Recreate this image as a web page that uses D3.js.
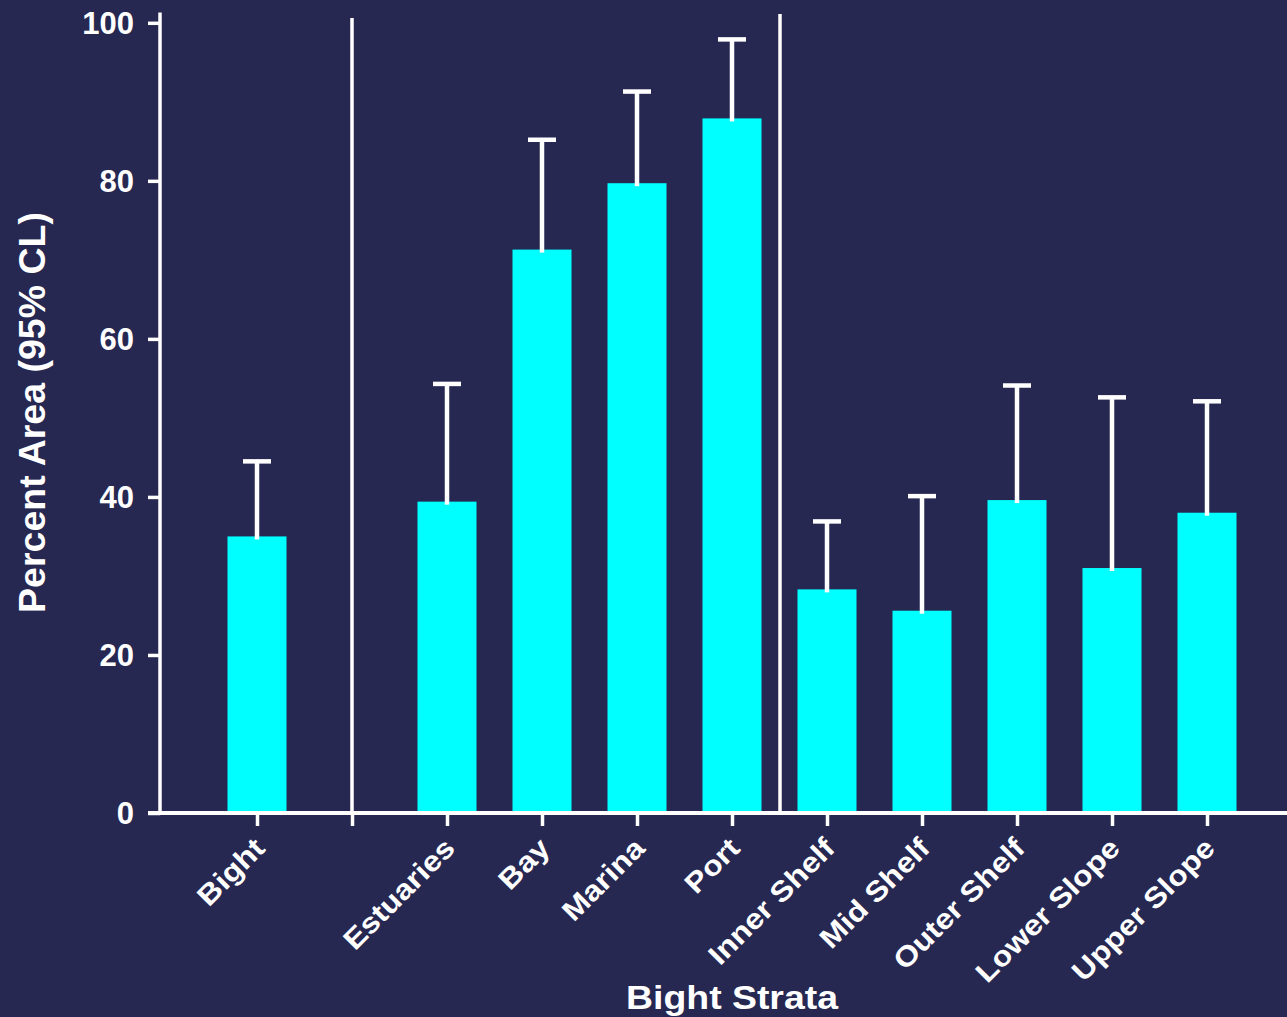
<!DOCTYPE html>
<html>
<head>
<meta charset="utf-8">
<script src="https://cdn.jsdelivr.net/npm/d3@7"></script>
<style>
  html, body { margin: 0; padding: 0; background: #262852; }
  svg { display: block; }
  text { font-family: "Liberation Sans", Arial, sans-serif; font-weight: bold; fill: #ffffff; }
</style>
</head>
<body>
<svg id="chart" width="1287" height="1017"></svg>
<script>
// ---- data ----
const categories = ["Bight", "", "Estuaries", "Bay", "Marina", "Port", "Inner Shelf", "Mid Shelf", "Outer Shelf", "Lower Slope", "Upper Slope"];
const values     = [35.0, null, 39.4, 71.3, 79.7, 87.9, 28.3, 25.6, 39.6, 31.0, 38.0];
const upperCL    = [44.5, null, 54.3, 85.2, 91.3, 97.9, 36.9, 40.1, 54.1, 52.6, 52.1];
const yTicks     = [0, 20, 40, 60, 80, 100];

const W = 1287, H = 1017;
const bg = "#262852", barColor = "#00ffff";
const svg = d3.select("#chart");
svg.append("rect").attr("width", W).attr("height", H).attr("fill", bg);

const keys = categories.map((c, i) => "k" + i);
const x = d3.scalePoint().domain(keys).range([257, 1207]);
const y = d3.scaleLinear().domain([0, 100]).range([813, 22.8]);
const barW = 59;

const data = categories.map((c, i) => ({ key: keys[i], label: c, v: values[i], u: upperCL[i] }))
  .filter(d => d.v !== null);

// bars
svg.append("g").selectAll("rect").data(data).join("rect")
  .attr("x", d => x(d.key) - barW / 2)
  .attr("y", d => y(d.v))
  .attr("width", barW)
  .attr("height", d => y(0) - y(d.v))
  .attr("fill", barColor);

// error bars
const eb = svg.append("g").attr("stroke", "#ffffff").attr("stroke-width", 4.5);
eb.selectAll("line.w").data(data).join("line").attr("class", "w")
  .attr("x1", d => x(d.key)).attr("x2", d => x(d.key))
  .attr("y1", d => y(d.v) + 3).attr("y2", d => y(d.u));
eb.selectAll("line.c").data(data).join("line").attr("class", "c")
  .attr("x1", d => x(d.key) - 14).attr("x2", d => x(d.key) + 14)
  .attr("y1", d => y(d.u)).attr("y2", d => y(d.u));

// separators (between groups)
const sepG = svg.append("g").attr("stroke", "#ffffff").attr("stroke-width", 3.5);
const sep1x = x(keys[1]);
sepG.append("line").attr("x1", sep1x).attr("x2", sep1x).attr("y1", 18).attr("y2", 813);
const pIdx = categories.indexOf("Port");
const sep2x = (x(keys[pIdx]) + x(keys[pIdx + 1])) / 2 + 0.5;
sepG.append("line").attr("x1", sep2x).attr("x2", sep2x).attr("y1", 14).attr("y2", 813);

// y axis
const yAxis = d3.axisLeft(y).tickValues(yTicks).tickSize(12).tickSizeOuter(0).tickPadding(14);
const yg = svg.append("g").attr("transform", "translate(160,0)").call(yAxis);
yg.select(".domain").remove();
yg.selectAll(".tick line").attr("stroke", "#fff").attr("stroke-width", 3.5);
yg.selectAll(".tick text").attr("fill", "#fff").attr("dy", "0.34em")
  .style("font-size", "31px").style("font-family", "Liberation Sans, Arial, sans-serif").style("font-weight", "bold");
svg.append("line").attr("x1", 160).attr("x2", 160).attr("y1", 12.5).attr("y2", 815)
  .attr("stroke", "#fff").attr("stroke-width", 3.5);

// x axis
const xAxis = d3.axisBottom(x).tickSize(13).tickSizeOuter(0).tickFormat(k => categories[keys.indexOf(k)]);
const xg = svg.append("g").attr("transform", "translate(0,813)").call(xAxis);
xg.select(".domain").remove();
xg.selectAll(".tick line").attr("stroke", "#fff").attr("stroke-width", 3.5);
xg.selectAll(".tick text")
  .attr("fill", "#fff")
  .style("font-size", "28.5px").style("font-family", "Liberation Sans, Arial, sans-serif").style("font-weight", "bold")
  .attr("text-anchor", "end")
  .attr("transform", "translate(9,37) rotate(-45) scale(1.12,1)")
  .attr("x", 0).attr("y", 0).attr("dy", "0");
svg.append("line").attr("x1", 148).attr("x2", W).attr("y1", 813).attr("y2", 813)
  .attr("stroke", "#fff").attr("stroke-width", 4);

// titles
svg.append("text").attr("transform", "translate(732,1009) scale(1.1,1)").attr("text-anchor", "middle")
  .style("font-size", "34px").text("Bight Strata");
svg.append("text").attr("transform", "translate(45,412.5) rotate(-90)").attr("text-anchor", "middle")
  .style("font-size", "37.5px").text("Percent Area (95% CL)");
</script>
</body>
</html>
